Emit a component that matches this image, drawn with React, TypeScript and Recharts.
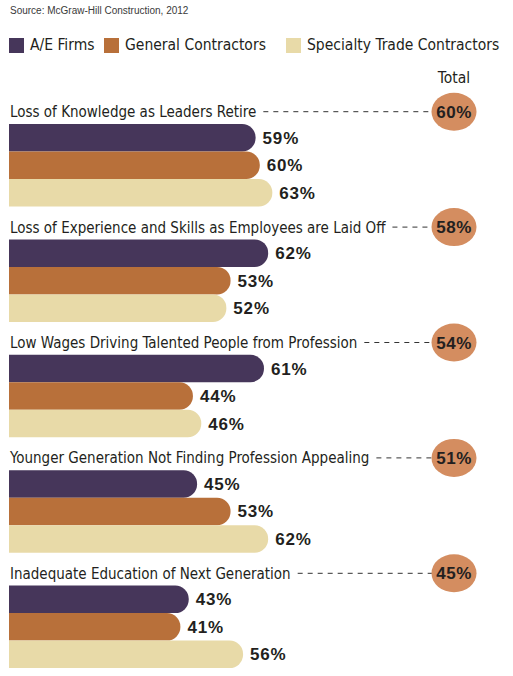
import React from 'react';
import { BarChart, Bar, XAxis, YAxis, LabelList, Rectangle } from 'recharts';

const categories = [
  'Loss of Knowledge as Leaders Retire',
  'Loss of Experience and Skills as Employees are Laid Off',
  'Low Wages Driving Talented People from Profession',
  'Younger Generation Not Finding Profession Appealing',
  'Inadequate Education of Next Generation',
];
const aeFirms = [59, 62, 61, 45, 43];
const generalContractors = [60, 53, 44, 53, 41];
const specialtyTrade = [63, 52, 46, 62, 56];
const totals = [60, 58, 54, 51, 45];
const seriesNames = ['A/E Firms', 'General Contractors', 'Specialty Trade Contractors'];
const seriesKeys = ['ae', 'gc', 'st'];
const sourceText = 'Source: McGraw-Hill Construction, 2012';
const totalLabel = 'Total';

const COLORS = ['#46365A', '#B8703A', '#E8DAA8'];
const CIRCLE = '#D48D60';
const TEXT = '#231F20';
const NARROW = "'DejaVu Sans Condensed', 'Liberation Sans Narrow', sans-serif";
const BOLD = "'Liberation Sans', Arial, sans-serif";
const CAT_SIZE = 15;
const CAT_LS = 0;
const SHIFT = 17;
const LEGEND_LEFT = [9, 104, 286];

const data = categories.map((c, i) => ({
  name: c,
  ae: aeFirms[i],
  gc: generalContractors[i],
  st: specialtyTrade[i],
  total: totals[i],
}));

let ctx: CanvasRenderingContext2D | null = null;
function measure(text: string, size: number, family: string, ls: number) {
  if (!ctx) ctx = document.createElement('canvas').getContext('2d');
  if (!ctx) return text.length * size * 0.45;
  ctx.font = `${size}px ${family}`;
  return ctx.measureText(text).width + ls * text.length;
}

const CategoryTick = (props: any) => {
  const { y, payload } = props;
  const name: string = payload.value;
  const idx = categories.indexOf(name);
  const baseline = y - 31.5;
  const lineY = y - 37;
  const x0 = 10;
  const cx = 454;
  const w = measure(name, CAT_SIZE, NARROW, CAT_LS);
  return (
    <g>
      <text x={x0} y={baseline} fontFamily={NARROW} fontSize={CAT_SIZE} letterSpacing={CAT_LS} fill={TEXT} textAnchor="start">
        {name}
      </text>
      <line x1={x0 + w + 7} x2={cx - 22} y1={lineY} y2={lineY} stroke="#333" strokeWidth={1} strokeDasharray="5 5" />
      <ellipse cx={cx} cy={lineY} rx={22.5} ry={19} fill={CIRCLE} />
      <text x={cx} y={lineY + 6} textAnchor="middle" fontFamily={BOLD} fontWeight="bold" fontSize={17} letterSpacing={0.5} fill={TEXT}>
        {totals[idx]}%
      </text>
    </g>
  );
};

const ShiftedBar = (props: any) => (
  <Rectangle x={props.x} y={props.y + SHIFT} width={props.width} height={props.height} fill={props.fill} radius={[0, 13.5, 13.5, 0]} />
);

const ValueLabel = (props: any) => {
  const { x, y, width, height, value } = props;
  return (
    <text x={x + width + 7} y={y + SHIFT + height / 2 + 6} fontFamily={BOLD} fontWeight="bold" fontSize={17} letterSpacing={0.8} fill={TEXT}>
      {value}%
    </text>
  );
};

export default function App() {
  return (
    <div style={{ position: 'absolute', left: 0, top: 0, width: 513, height: 676, background: '#fff', overflow: 'hidden' }}>
      <div style={{ position: 'absolute', left: 10, top: 5, fontFamily: "'Liberation Sans', Arial, sans-serif", fontSize: 10, color: '#3a3a3a', whiteSpace: 'nowrap' }}>
        {sourceText}
      </div>
      {seriesNames.map((n, i) => (
        <div
          key={n}
          style={{ position: 'absolute', left: LEGEND_LEFT[i], top: 36, display: 'flex', alignItems: 'center', fontFamily: NARROW, fontSize: 15.5, color: TEXT, whiteSpace: 'nowrap' }}
        >
          <span style={{ display: 'inline-block', width: 15, height: 15, background: COLORS[i], marginRight: 6 }} />
          <span>{n}</span>
        </div>
      ))}
      <div style={{ position: 'absolute', left: 424, width: 60, textAlign: 'center', top: 69, fontFamily: NARROW, fontSize: 15.5, color: TEXT }}>
        {totalLabel}
      </div>
      <BarChart
        width={513}
        height={676}
        data={data}
        layout="vertical"
        margin={{ top: 91, right: 86, bottom: 8, left: 8 }}
        barGap={0}
        barCategoryGap={0}
        barSize={27.5}
      >
        <XAxis type="number" domain={[0, 100]} hide />
        <YAxis
          type="category"
          dataKey="name"
          width={1}
          axisLine={false}
          tickLine={false}
          tick={(p: any) => <CategoryTick {...p} />}
          interval={0}
        />
        {seriesKeys.map((k, i) => (
          <Bar key={k} dataKey={k} name={seriesNames[i]} fill={COLORS[i]} isAnimationActive={false} shape={<ShiftedBar />}>
            <LabelList dataKey={k} content={<ValueLabel />} />
          </Bar>
        ))}
      </BarChart>
    </div>
  );
}
